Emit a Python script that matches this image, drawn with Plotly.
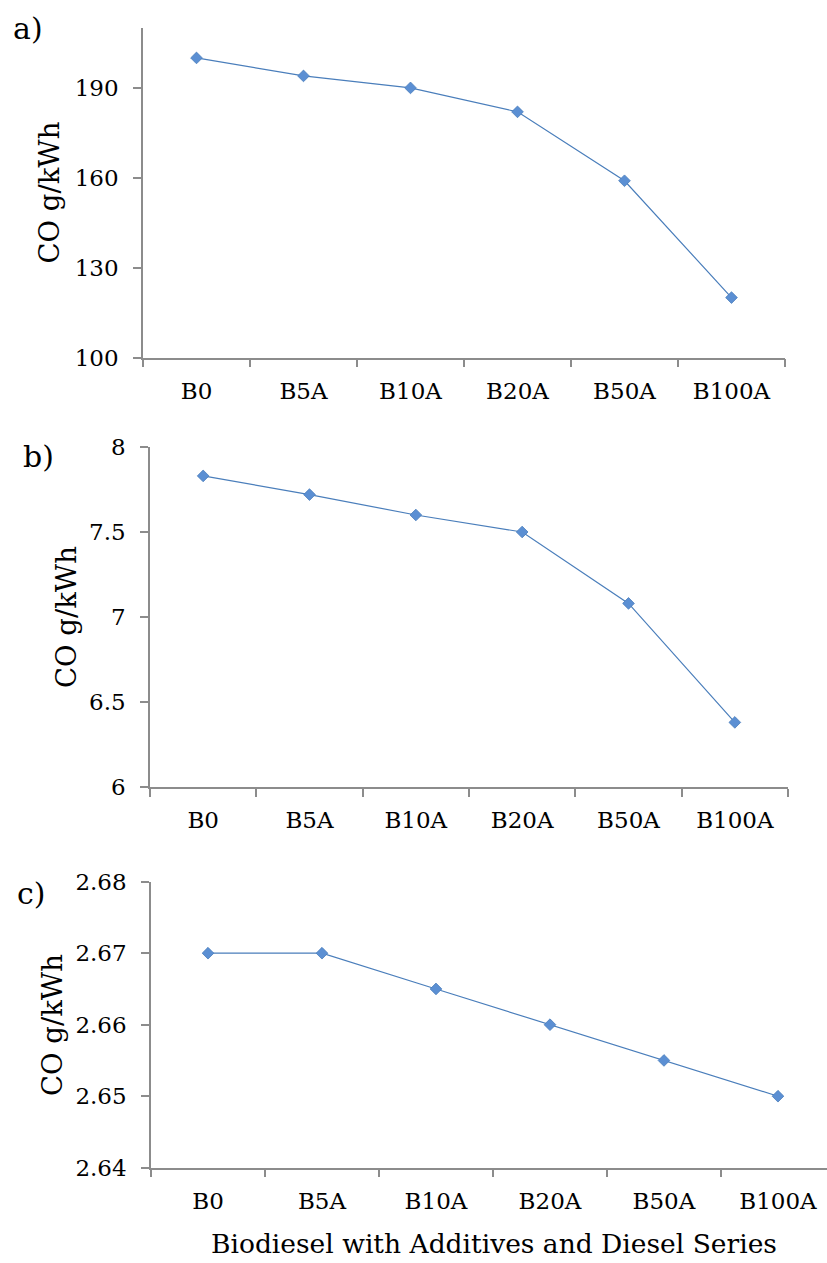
import plotly.graph_objects as go

categories = ["B0", "B5A", "B10A", "B20A", "B50A", "B100A"]
co_a = [200, 194, 190, 182, 159, 120]
co_b = [7.83, 7.72, 7.60, 7.50, 7.08, 6.38]
co_c = [2.670, 2.670, 2.665, 2.660, 2.655, 2.650]

ticks_a = [100, 130, 160, 190]
ticks_b = [6, 6.5, 7, 7.5, 8]
ticks_c = [2.64, 2.65, 2.66, 2.67, 2.68]
tick_text_b = ["6", "6.5", "7", "7.5", "8"]
tick_text_c = ["2.64", "2.65", "2.66", "2.67", "2.68"]

panel_labels = ["a)", "b)", "c)"]
y_title = "CO g/kWh"
x_title = "Biodiesel with Additives and Diesel Series"

W, H = 827, 1263
FONT = "DejaVu Serif"
AX = "#8C8C8C"
LINE = "#4A7EBB"
MARK = "#5B8FD3"

fig = go.Figure()
for vals, xa, ya in [(co_a, "x", "y"), (co_b, "x2", "y2"), (co_c, "x3", "y3")]:
    fig.add_trace(go.Scatter(
        x=categories, y=vals, xaxis=xa, yaxis=ya, mode="lines+markers",
        line=dict(color=LINE, width=1.2),
        marker=dict(symbol="diamond", size=9, color=MARK,
                    line=dict(color="#4A7EBB", width=0.8)),
        showlegend=False,
    ))

def px_x(a, b):
    return [a / W, b / W]

def px_y(top, bottom):
    return [1 - bottom / H, 1 - top / H]

xcommon = dict(type="category", showline=True, linecolor=AX, linewidth=1.5,
               ticks="outside", ticklen=8, tickcolor=AX, tickwidth=1.5,
               tickson="boundaries", showgrid=False, zeroline=False,
               automargin=False, ticklabelstandoff=12,
               tickfont=dict(family=FONT, size=23, color="black"))
ycommon = dict(showline=True, linecolor=AX, linewidth=1.5,
               ticks="outside", ticklen=8, tickcolor=AX, tickwidth=1.5,
               showgrid=False, zeroline=False, automargin=False,
               ticklabelstandoff=10,
               tickfont=dict(family=FONT, size=23, color="black"))

fig.update_layout(
    template="none",
    width=W, height=H,
    margin=dict(l=0, r=0, t=0, b=0, autoexpand=False),
    paper_bgcolor="white", plot_bgcolor="white",
    xaxis=dict(xcommon, domain=px_x(143, 785), anchor="y", range=[-0.5, 5.5]),
    yaxis=dict(ycommon, domain=px_y(28, 357.5), anchor="x", range=[100, 210],
               tickvals=ticks_a),
    xaxis2=dict(xcommon, domain=px_x(150, 788), anchor="y2", range=[-0.5, 5.5]),
    yaxis2=dict(ycommon, domain=px_y(447, 787), anchor="x2", range=[6, 8],
                tickvals=ticks_b, ticktext=tick_text_b),
    xaxis3=dict(xcommon, domain=px_x(151, 827), anchor="y3", range=[-0.5, 5.43]),
    yaxis3=dict(ycommon, domain=px_y(881.7, 1167.7), anchor="x3", range=[2.64, 2.68],
                tickvals=ticks_c, ticktext=tick_text_c),
)

ann = []
for xc, yc in [(48, 192.5), (66, 617), (52, 1025)]:
    ann.append(dict(text=y_title, textangle=-90, x=xc / W, y=1 - yc / H,
                    xref="paper", yref="paper", xanchor="center", yanchor="middle",
                    showarrow=False, font=dict(family=FONT, size=27.5, color="black")))
for lab, xc, yc in zip(panel_labels, [28, 38, 31], [28, 456, 893]):
    ann.append(dict(text=lab, x=xc / W, y=1 - yc / H, xref="paper", yref="paper",
                    xanchor="center", yanchor="middle", showarrow=False,
                    font=dict(family=FONT, size=30, color="black")))
ann.append(dict(text=x_title, x=494 / W, y=1 - 1243 / H, xref="paper", yref="paper",
                xanchor="center", yanchor="middle", showarrow=False,
                font=dict(family=FONT, size=26.5, color="black")))
fig.update_layout(annotations=ann)

fig.write_html("out.html")
